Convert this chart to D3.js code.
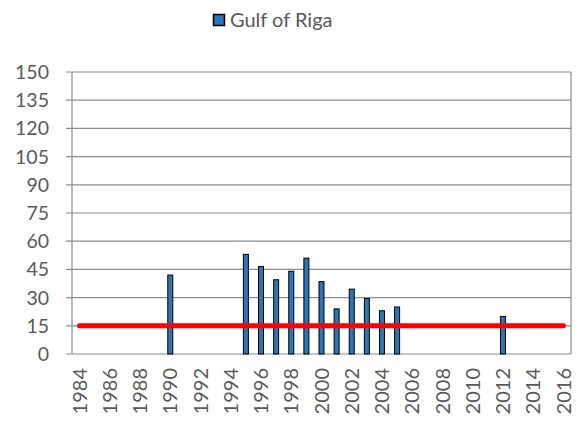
<!DOCTYPE html>
<html>
<head>
<meta charset="utf-8">
<script src="https://cdn.jsdelivr.net/npm/d3@7"></script>
<style>
  body { margin: 0; background: #fff; }
  text { font-family: Lato, "Open Sans", sans-serif; fill: #595959; }
</style>
</head>
<body>
<div class="chart"></div>
<script>
var years = d3.range(1984, 2017),
    bar_years = [1990, 1995, 1996, 1997, 1998, 1999, 2000, 2001, 2002, 2003, 2004, 2005, 2012],
    bar_values = [42, 53, 46.5, 39.5, 44, 51, 38.5, 24, 34.5, 29.5, 23, 25, 20],
    y_ticks = [0, 15, 30, 45, 60, 75, 90, 105, 120, 135, 150],
    x_labels = d3.range(1984, 2017, 2),
    limit_value = 15,
    series_name = "Gulf of Riga";

var width = 581,
    height = 423,
    plot_left = 72,
    plot_right = 571,
    plot_top = 72,
    plot_bottom = 354;

var svg = d3.select(".chart")
    .append("svg")
    .attr("width", width)
    .attr("height", height);

var x = d3.scaleBand()
    .domain(years)
    .range([plot_left, plot_right]);

var y = d3.scaleLinear()
    .domain([0, 150])
    .range([plot_bottom, plot_top]);

// gridlines, with the little tick stubs left of the axis
svg.append("g")
    .selectAll("line")
    .data(y_ticks)
    .enter().append("line")
    .attr("x1", plot_left - 6)
    .attr("x2", plot_right)
    .attr("y1", function(d) { return y(d); })
    .attr("y2", function(d) { return y(d); })
    .attr("stroke", "#8c8c8c")
    .attr("stroke-width", 1.2);

// plot border sides
svg.append("line")
    .attr("x1", plot_left).attr("x2", plot_left)
    .attr("y1", plot_top).attr("y2", plot_bottom)
    .attr("stroke", "#8c8c8c")
    .attr("stroke-width", 1.2);
svg.append("line")
    .attr("x1", plot_right).attr("x2", plot_right)
    .attr("y1", plot_top).attr("y2", plot_bottom)
    .attr("stroke", "#8c8c8c")
    .attr("stroke-width", 1.2);

// y labels
svg.append("g")
    .selectAll("text")
    .data(y_ticks)
    .enter().append("text")
    .attr("x", 49)
    .attr("y", function(d) { return y(d); })
    .attr("dy", "0.36em")
    .attr("text-anchor", "end")
    .style("font-size", "19.5px")
    .text(function(d) { return d; });

// x labels
svg.append("g")
    .selectAll("text")
    .data(x_labels)
    .enter().append("text")
    .attr("transform", function(d) {
        return "translate(" + (x(d) + x.bandwidth() / 2) + ",368) rotate(-90)";
    })
    .attr("dy", "0.36em")
    .attr("text-anchor", "end")
    .style("font-size", "20px")
    .text(function(d) { return d; });

// bars
var bar_w = 5;
svg.append("g")
    .selectAll("rect")
    .data(bar_years)
    .enter().append("rect")
    .attr("x", function(d) { return x(d) + x.bandwidth() / 2 - bar_w / 2; })
    .attr("y", function(d, i) { return y(bar_values[i]); })
    .attr("width", bar_w)
    .attr("height", function(d, i) { return plot_bottom - y(bar_values[i]); })
    .attr("fill", "#2e75b6")
    .attr("stroke", "#000")
    .attr("stroke-width", 1);

// limit line
svg.append("line")
    .attr("x1", x(1984) + x.bandwidth() / 2)
    .attr("x2", x(2016) + x.bandwidth() / 2)
    .attr("y1", y(limit_value))
    .attr("y2", y(limit_value))
    .attr("stroke", "#ff0000")
    .attr("stroke-width", 5)
    .attr("stroke-linecap", "round");

// legend
svg.append("rect")
    .attr("x", 213.5).attr("y", 14.5)
    .attr("width", 11).attr("height", 11)
    .attr("fill", "#2e75b6")
    .attr("stroke", "#000")
    .attr("stroke-width", 1.5);
svg.append("text")
    .attr("x", 230)
    .attr("y", 27)
    .style("font-size", "20px")
    .text(series_name);
</script>
</body>
</html>
